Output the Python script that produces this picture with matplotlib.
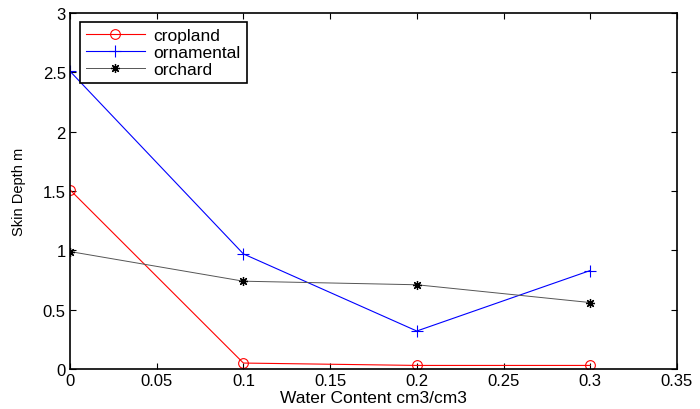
import matplotlib
matplotlib.use('Agg')
import matplotlib.pyplot as plt

plt.rcParams['font.family'] = ['Liberation Sans', 'DejaVu Sans']

water = [0, 0.1, 0.2, 0.3]
cropland = [1.51, 0.05, 0.03, 0.03]
ornamental = [2.51, 0.97, 0.32, 0.83]
orchard = [0.99, 0.74, 0.71, 0.56]

fig = plt.figure(figsize=(7, 4.1), dpi=100)
ax = fig.add_axes([0.1, 0.0976, 0.867, 0.868])

ax.plot(water, cropland, c='red', lw=0.8, marker='o', ms=7, mfc='none', mew=0.8, label='cropland')
ax.plot(water, ornamental, c='blue', lw=0.8, marker='+', ms=9, mew=0.8, label='ornamental')
ax.plot(water, orchard, c='#555555', lw=0.7, marker=(8, 2, 0), ms=6.5, mec='black', mew=0.9, label='orchard')

ax.set_xlim(0, 0.35)
ax.set_ylim(0, 3)
ax.set_xticks([0, 0.05, 0.1, 0.15, 0.2, 0.25, 0.3, 0.35])
ax.set_xticklabels(['0', '0.05', '0.1', '0.15', '0.2', '0.25', '0.3', '0.35'])
ax.set_yticks([0, 0.5, 1, 1.5, 2, 2.5, 3])
ax.set_yticklabels(['0', '0.5', '1', '1.5', '2', '2.5', '3'])
ax.tick_params(axis='both', direction='in', top=True, right=True, labelsize=12, length=4, pad=3)
for s in ax.spines.values():
    s.set_linewidth(1.2)

ax.set_xlabel('Water Content cm3/cm3', fontsize=12.5, labelpad=1)
ax.set_ylabel('Skin Depth m', fontsize=10.5, labelpad=12)

leg = ax.legend(loc='upper left', bbox_to_anchor=(0.016, 0.975), fontsize=12.5, fancybox=False,
                framealpha=1, edgecolor='black', borderaxespad=0, handlelength=3.4,
                labelspacing=0.1, borderpad=0.35, handletextpad=0.5)
leg.get_frame().set_linewidth(1.2)

fig.savefig('out.png', dpi=100)
